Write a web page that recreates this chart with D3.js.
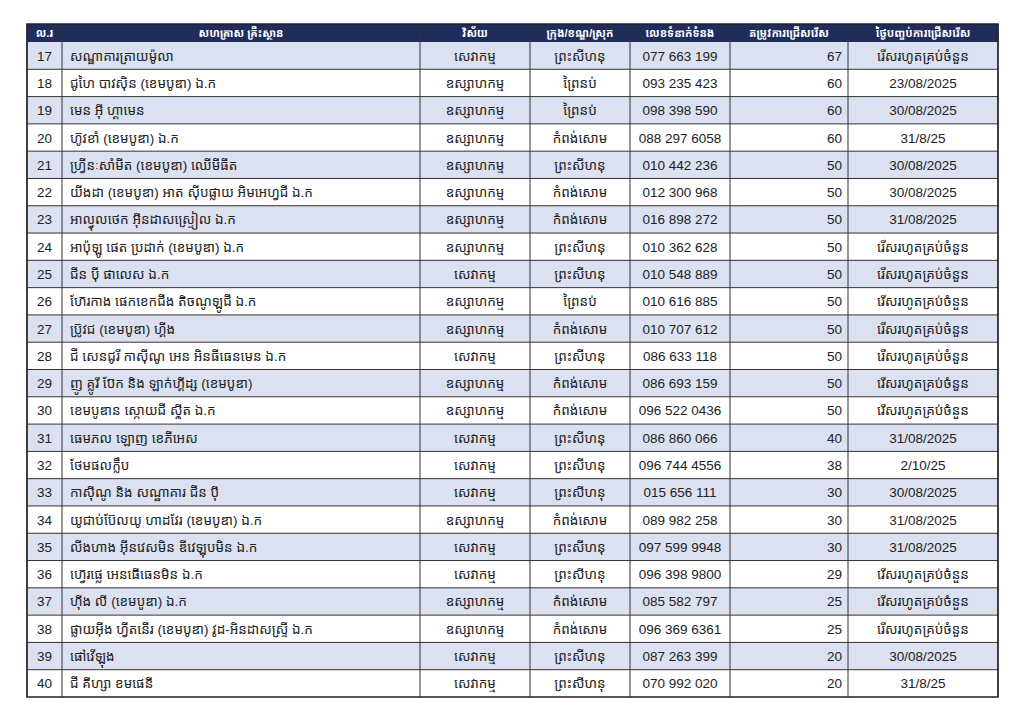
<!DOCTYPE html>
<html><head><meta charset="utf-8">
<script src="https://cdn.jsdelivr.net/npm/d3@7"></script>
<style>body{margin:0;background:#fff}text{font-family:"Liberation Sans","Noto Sans Khmer","Khmer OS","Noto Sans",sans-serif}</style>
</head><body><svg id="c" width="1024" height="724"></svg>
<script>
const headers = ["ល.រ","សហគ្រាស គ្រឹះស្ថាន","វិស័យ","ក្រុង/ខណ្ឌ/ស្រុក","លេខទំនាក់ទំនង","តម្រូវការជ្រើសរើស","ថ្ងៃបញ្ចប់ការជ្រើសរើស"];
const ids = d3.range(17, 41);
const names = ["សណ្ឋាគារត្រាយម៉ូលា","ជូហៃ បាវស៊ិន (ខេមបូឌា) ឯ.ក","មេន អ៊ី ហ្គាមេន","ហ៊ូវខាំ (ខេមបូឌា) ឯ.ក","ហ្វ្រីនៈសាំមីត (ខេមបូឌា) ឈើមីធីត","យីងដា (ខេមបូឌា) អាត ស៊ីបផ្លាយ អិមអេហ្វជី ឯ.ក","អាល្វុលថេក អ៊ីនដាសស្ទ្រៀល ឯ.ក","អាប៉ុឡូ ផេត ប្រដាក់ (ខេមបូឌា) ឯ.ក","ជីន ប៉ី ផាលេស ឯ.ក","ហ៊ែរកាង ផេកខេកជីង តិចណូឡូជី ឯ.ក","ប្រ៊ូវជ (ខេមបូឌា) ហ្គីង","ជី សេនជូរី កាស៊ីណូ អេន អិនធីធេនមេន ឯ.ក","ញូ គ្លូរី ប៊ែក និង ឡាក់ហ្គីដ្ស (ខេមបូឌា)","ខេមបូឌាន ស្កោយជី ស៊្កីត ឯ.ក","ធេមភល ឡោញ ខេភីអេស","ថែមផលក្លឹប","កាស៊ីណូ និង សណ្ឋាគារ ជីន ប៉ី","យូជាប់ប៊ែលយូ ហាដវែរ (ខេមបូឌា) ឯ.ក","លីងហាង អុីនវេសមិន ឌីវេឡុបមិន ឯ.ក","ហ៊្វេរផ្លេ អេនធើធេនមិន ឯ.ក","ហ៊ីង លី (ខេមបូឌា) ឯ.ក","ផ្លាយអ៊ីង ហ្វីតនើរ (ខេមបូឌា) វូដ-អិនដាសស្ទ្រី ឯ.ក","ផៅវើឡុង","ជី គីហ្សា ខមផេនី"];
const S = "សេវាកម្ម", I = "ឧស្សាហកម្ម";
const sectors = [S,I,I,I,I,I,I,I,S,I,I,S,I,I,S,S,S,I,S,S,I,I,S,S];
const P = "ព្រះសីហនុ", N = "ព្រៃនប់", K = "កំពង់សោម";
const cities = [P,N,N,K,P,K,K,P,P,N,K,P,K,K,P,P,P,K,P,P,K,K,P,P];
const phones = ["077 663 199","093 235 423","098 398 590","088 297 6058","010 442 236","012 300 968","016 898 272","010 362 628","010 548 889","010 616 885","010 707 612","086 633 118","086 693 159","096 522 0436","086 860 066","096 744 4556","015 656 111","089 982 258","097 599 9948","096 398 9800","085 582 797","096 369 6361","087 263 399","070 992 020"];
const needs = [67,60,60,60,50,50,50,50,50,50,50,50,50,50,40,38,30,30,30,29,25,25,20,20];
const R = "រើសរហូតគ្រប់ចំនួន";
const dates = [R,"23/08/2025","30/08/2025","31/8/25","30/08/2025","30/08/2025","31/08/2025",R,R,R,R,R,R,R,"31/08/2025","2/10/25","30/08/2025","31/08/2025","31/08/2025",R,R,R,"30/08/2025","31/8/25"];

const svg = d3.select("#c");
const edges = [27, 62, 420, 530, 630, 730, 848, 998];
const tableTop = 24, headH = 18, tableBottom = 697;
const y = d3.scaleBand().domain(ids).range([tableTop + headH, tableBottom]);

const rows = ids.map((id, i) => [id, names[i], sectors[i], cities[i], phones[i], needs[i], dates[i]]);
const align = ["middle","start","middle","middle","middle","end","middle"];
const tx = c => align[c] === "start" ? edges[c] + 8 : align[c] === "end" ? edges[c+1] - 6 : (edges[c] + edges[c+1]) / 2;

svg.append("rect").attr("x", edges[0]).attr("y", tableTop).attr("width", edges[7] - edges[0]).attr("height", headH).attr("fill", "#1f2c5c");
svg.selectAll(".h").data(headers).join("text")
  .attr("x", (d, c) => (edges[c] + edges[c+1]) / 2).attr("y", tableTop + headH / 2 + 4)
  .attr("text-anchor", "middle").attr("fill", "#fff").attr("font-size", 11).attr("font-weight", "bold").text(d => d);

const g = svg.selectAll(".r").data(rows).join("g");
g.append("rect").attr("x", edges[0]).attr("y", d => y(d[0])).attr("width", edges[7] - edges[0]).attr("height", y.bandwidth())
  .attr("fill", (d, i) => i % 2 === 0 ? "#dbe1f0" : "#fff");
g.each(function(d) {
  d3.select(this).selectAll("text").data(d).join("text")
    .attr("x", (v, c) => tx(c)).attr("y", y(d[0]) + y.bandwidth() / 2 + 5)
    .attr("text-anchor", (v, c) => align[c]).attr("fill", "#222").attr("font-size", 13.5).text(v => v);
});

// grid lines
svg.selectAll(".hl").data(ids.slice(1)).join("line")
  .attr("x1", edges[0]).attr("x2", edges[7]).attr("y1", d => y(d)).attr("y2", d => y(d)).attr("stroke", "#333").attr("stroke-width", 1);
svg.selectAll(".vl").data(edges).join("line")
  .attr("x1", d => d).attr("x2", d => d).attr("y1", tableTop).attr("y2", tableBottom).attr("stroke", "#333").attr("stroke-width", 1);
svg.append("rect").attr("x", edges[0]).attr("y", tableTop).attr("width", edges[7] - edges[0]).attr("height", tableBottom - tableTop)
  .attr("fill", "none").attr("stroke", "#222").attr("stroke-width", 1.5);
</script></body></html>
